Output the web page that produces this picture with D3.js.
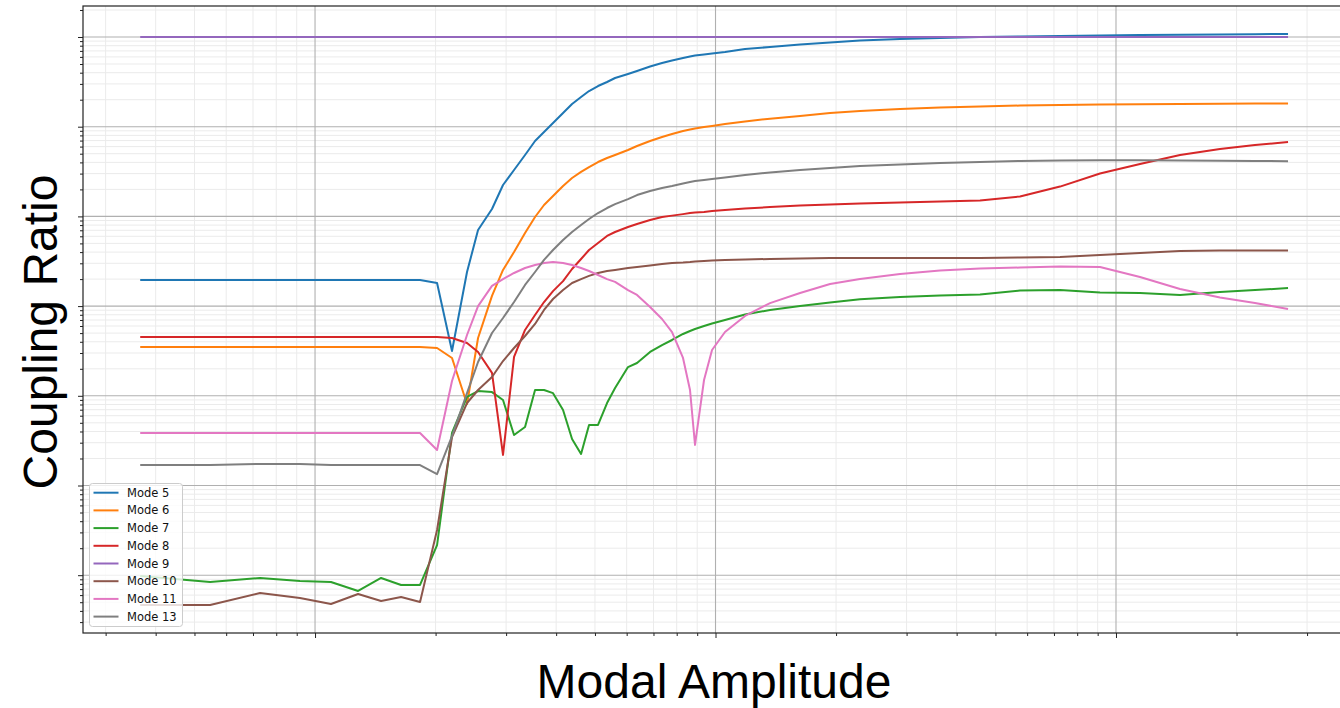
<!DOCTYPE html>
<html>
<head>
<meta charset="utf-8">
<script src="https://cdn.jsdelivr.net/npm/d3@7"></script>
<style>
  body { margin: 0; background: #fff; }
  svg { display: block; }
</style>
</head>
<body>
<div id="chart"></div>
<script>
// shared amplitude grid (x) for all modes
const amplitude = [0.366, 0.547, 0.729, 0.917, 1.096, 1.281, 1.462, 1.640, 1.829, 2.017,
  2.198, 2.396, 2.553, 2.766, 2.947, 3.140, 3.345, 3.543, 3.731, 3.929,
  4.162, 4.383, 4.616, 4.833, 5.089, 5.360, 5.613, 6.046, 6.368, 6.864,
  7.353, 7.788, 8.296, 8.636, 8.888, 9.361, 9.802, 10.56, 11.85, 13.68,
  16.26, 19.32, 22.95, 28.89, 36.36, 45.76, 57.59, 72.49, 91.22, 114.8,
  144.5, 181.8, 222.4, 268.9];

const mode5 = [1.95e-3, 1.95e-3, 1.95e-3, 1.95e-3, 1.95e-3, 1.95e-3, 1.95e-3, 1.95e-3, 1.95e-3, 1.81e-3,
  3.16e-4, 2.40e-3, 7.05e-3, 1.21e-2, 2.24e-2, 3.29e-2, 4.84e-2, 6.93e-2, 8.73e-2, 0.110,
  0.142, 0.179, 0.214, 0.250, 0.284, 0.315, 0.349, 0.387, 0.418, 0.469,
  0.513, 0.547, 0.583, 0.606, 0.622, 0.638, 0.655, 0.680, 0.735, 0.774,
  0.825, 0.868, 0.914, 0.950, 0.975, 1.0, 1.013, 1.026, 1.039, 1.053,
  1.058, 1.066, 1.074, 1.080];

const mode6 = [3.50e-4, 3.50e-4, 3.50e-4, 3.50e-4, 3.50e-4, 3.50e-4, 3.50e-4, 3.50e-4, 3.50e-4, 3.41e-4,
  2.64e-4, 8.10e-5, 4.41e-4, 1.30e-3, 2.53e-3, 4.01e-3, 6.53e-3, 9.85e-3, 1.34e-2, 1.69e-2,
  2.18e-2, 2.68e-2, 3.13e-2, 3.55e-2, 4.04e-2, 4.48e-2, 4.84e-2, 5.50e-2, 6.09e-2, 6.93e-2,
  7.68e-2, 8.29e-2, 8.95e-2, 9.30e-2, 9.55e-2, 9.92e-2, 0.102, 0.107, 0.114, 0.123,
  0.132, 0.142, 0.150, 0.158, 0.164, 0.168, 0.172, 0.175, 0.177, 0.178,
  0.179, 0.180, 0.181, 0.181];

const mode7 = [9.80e-7, 8.40e-7, 9.31e-7, 8.62e-7, 8.40e-7, 6.67e-7, 9.31e-7, 7.78e-7, 7.78e-7, 2.17e-6,
  3.85e-5, 9.70e-5, 1.13e-4, 1.10e-4, 8.98e-5, 3.66e-5, 4.49e-5, 1.16e-4, 1.16e-4, 1.07e-4,
  6.95e-5, 3.30e-5, 2.25e-5, 4.73e-5, 4.73e-5, 8.31e-5, 1.22e-4, 2.09e-4, 2.32e-4, 3.08e-4,
  3.68e-4, 4.19e-4, 4.89e-4, 5.28e-4, 5.55e-4, 6.00e-4, 6.40e-4, 7.00e-4, 8.06e-4, 9.05e-4,
  1.00e-3, 1.10e-3, 1.19e-3, 1.26e-3, 1.31e-3, 1.35e-3, 1.49e-3, 1.51e-3, 1.42e-3, 1.40e-3,
  1.33e-3, 1.44e-3, 1.51e-3, 1.59e-3];

const mode8 = [4.53e-4, 4.53e-4, 4.53e-4, 4.53e-4, 4.53e-4, 4.53e-4, 4.53e-4, 4.53e-4, 4.53e-4, 4.53e-4,
  4.41e-4, 3.88e-4, 3.08e-4, 1.80e-4, 2.19e-5, 2.71e-4, 5.42e-4, 7.96e-4, 1.11e-3, 1.47e-3,
  1.90e-3, 2.59e-3, 3.35e-3, 4.22e-3, 5.05e-3, 6.05e-3, 6.70e-3, 7.62e-3, 8.23e-3, 9.12e-3,
  9.85e-3, 1.02e-2, 1.06e-2, 1.09e-2, 1.105e-2, 1.12e-2, 1.15e-2, 1.18e-2, 1.225e-2, 1.27e-2,
  1.32e-2, 1.36e-2, 1.39e-2, 1.43e-2, 1.47e-2, 1.50e-2, 1.67e-2, 2.15e-2, 3.01e-2, 3.84e-2,
  4.84e-2, 5.64e-2, 6.25e-2, 6.75e-2];

const mode9 = [1, 1, 1, 1, 1, 1, 1, 1, 1, 1,
  1, 1, 1, 1, 1, 1, 1, 1, 1, 1,
  1, 1, 1, 1, 1, 1, 1, 1, 1, 1,
  1, 1, 1, 1, 1, 1, 1, 1, 1, 1,
  1, 1, 1, 1, 1, 1, 1, 1, 1, 1,
  1, 1, 1, 1];

const mode10 = [4.65e-7, 4.65e-7, 6.33e-7, 5.57e-7, 4.78e-7, 6.17e-7, 5.16e-7, 5.71e-7, 5.03e-7, 3.19e-6,
  3.47e-5, 8.31e-5, 1.16e-4, 1.62e-4, 2.44e-4, 3.41e-4, 4.64e-4, 6.32e-4, 9.05e-4, 1.20e-3,
  1.51e-3, 1.81e-3, 2.00e-3, 2.17e-3, 2.34e-3, 2.46e-3, 2.53e-3, 2.66e-3, 2.73e-3, 2.83e-3,
  2.94e-3, 3.02e-3, 3.06e-3, 3.10e-3, 3.14e-3, 3.18e-3, 3.22e-3, 3.27e-3, 3.31e-3, 3.35e-3,
  3.39e-3, 3.44e-3, 3.44e-3, 3.44e-3, 3.44e-3, 3.44e-3, 3.48e-3, 3.53e-3, 3.71e-3, 3.91e-3,
  4.11e-3, 4.17e-3, 4.17e-3, 4.17e-3];

const mode11 = [3.85e-5, 3.85e-5, 3.85e-5, 3.85e-5, 3.85e-5, 3.85e-5, 3.85e-5, 3.85e-5, 3.85e-5, 2.49e-5,
  1.46e-4, 4.76e-4, 1.00e-3, 1.68e-3, 2.00e-3, 2.34e-3, 2.66e-3, 2.87e-3, 3.02e-3, 3.10e-3,
  3.02e-3, 2.87e-3, 2.66e-3, 2.46e-3, 2.22e-3, 2.00e-3, 1.86e-3, 1.51e-3, 1.33e-3, 9.77e-4,
  7.18e-4, 5.14e-4, 2.64e-4, 1.16e-4, 2.83e-5, 1.50e-4, 3.24e-4, 5.14e-4, 7.76e-4, 1.08e-3,
  1.40e-3, 1.76e-3, 2.00e-3, 2.28e-3, 2.49e-3, 2.63e-3, 2.69e-3, 2.76e-3, 2.73e-3, 2.11e-3,
  1.55e-3, 1.25e-3, 1.08e-3, 9.29e-4];

const mode13 = [1.69e-5, 1.69e-5, 1.74e-5, 1.74e-5, 1.69e-5, 1.69e-5, 1.69e-5, 1.69e-5, 1.69e-5, 1.34e-5,
  3.56e-5, 1.07e-4, 2.38e-4, 5.01e-4, 7.37e-4, 1.11e-3, 1.72e-3, 2.40e-3, 3.27e-3, 4.22e-3,
  5.46e-3, 6.70e-3, 8.02e-3, 9.35e-3, 1.09e-2, 1.24e-2, 1.37e-2, 1.56e-2, 1.73e-2, 1.92e-2,
  2.07e-2, 2.18e-2, 2.33e-2, 2.42e-2, 2.48e-2, 2.55e-2, 2.61e-2, 2.71e-2, 2.89e-2, 3.09e-2,
  3.29e-2, 3.46e-2, 3.65e-2, 3.79e-2, 3.94e-2, 4.04e-2, 4.15e-2, 4.20e-2, 4.23e-2, 4.23e-2,
  4.20e-2, 4.17e-2, 4.15e-2, 4.12e-2];

const modeNames = ['Mode 5', 'Mode 6', 'Mode 7', 'Mode 8', 'Mode 9', 'Mode 10', 'Mode 11', 'Mode 13'];
const modeValues = [mode5, mode6, mode7, mode8, mode9, mode10, mode11, mode13];
const colors = ['#1f77b4', '#ff7f0e', '#2ca02c', '#d62728', '#9467bd', '#8c564b', '#e377c2', '#7f7f7f'];

const W = 1340, H = 708;
const margin = {top: 6, left: 83, right: -5, bottom: 75};
const width = W - margin.left - margin.right,
  height = H - margin.top - margin.bottom;

const svg = d3.select('#chart').append('svg')
  .attr('width', W)
  .attr('height', H)
  .style('font-family', 'Liberation Sans, Arial, sans-serif');

const g = svg.append('g')
  .attr('transform', 'translate(' + margin.left + ',' + margin.top + ')');

const x = d3.scaleLog()
  .domain([0.2634, 373.1])
  .range([0, width]);

const y = d3.scaleLog()
  .domain([2.268e-7, 2.216])
  .range([height, 0]);

const isMajor = (v) => Math.abs(Math.log10(v) - Math.round(Math.log10(v))) < 1e-6;
const xMinor = x.ticks().filter((v) => !isMajor(v));
const xMajor = x.ticks().filter(isMajor);
const yMinor = y.ticks().filter((v) => !isMajor(v));
const yMajor = y.ticks().filter(isMajor);

// grid: minor first, then major
const grid = g.append('g').attr('class', 'grid');
grid.selectAll('.xminor').data(xMinor).enter().append('line')
  .attr('x1', (d) => x(d)).attr('x2', (d) => x(d))
  .attr('y1', 0).attr('y2', height)
  .attr('stroke', '#ebebeb').attr('stroke-width', 1);
grid.selectAll('.yminor').data(yMinor).enter().append('line')
  .attr('y1', (d) => y(d)).attr('y2', (d) => y(d))
  .attr('x1', 0).attr('x2', width)
  .attr('stroke', '#ebebeb').attr('stroke-width', 1);
grid.selectAll('.xmajor').data(xMajor).enter().append('line')
  .attr('x1', (d) => x(d)).attr('x2', (d) => x(d))
  .attr('y1', 0).attr('y2', height)
  .attr('stroke', '#b0b0b0').attr('stroke-width', 1.1);
grid.selectAll('.ymajor').data(yMajor).enter().append('line')
  .attr('y1', (d) => y(d)).attr('y2', (d) => y(d))
  .attr('x1', 0).attr('x2', width)
  .attr('stroke', '#b0b0b0').attr('stroke-width', 1.1);

// axes: ticks only, no labels
function tickAxis(axis, vals, size) {
  return axis.tickValues(vals).tickSize(size).tickSizeOuter(0).tickFormat('');
}
const axes = [
  g.append('g').attr('transform', 'translate(0,' + height + ')').call(tickAxis(d3.axisBottom(x), xMinor, 3)),
  g.append('g').attr('transform', 'translate(0,' + height + ')').call(tickAxis(d3.axisBottom(x), xMajor, 5)),
  g.append('g').call(tickAxis(d3.axisLeft(y), yMinor, 3)),
  g.append('g').call(tickAxis(d3.axisLeft(y), yMajor, 5))
];
axes.forEach((a) => {
  a.select('.domain').remove();
  a.selectAll('line').attr('stroke', '#222').attr('stroke-width', 1);
});

g.append('clipPath').attr('id', 'clip')
  .append('rect').attr('width', width).attr('height', height);

const line = d3.line()
  .x((d, i) => x(amplitude[i]))
  .y((d) => y(d));

g.append('g').attr('clip-path', 'url(#clip)')
  .selectAll('.mode')
  .data(modeValues)
  .enter().append('path')
  .attr('class', 'mode')
  .attr('fill', 'none')
  .attr('stroke', (d, i) => colors[i])
  .attr('stroke-width', 2)
  .attr('stroke-linejoin', 'round')
  .attr('d', line);

// spines
g.append('rect')
  .attr('width', width).attr('height', height)
  .attr('fill', 'none').attr('stroke', '#222').attr('stroke-width', 1.2);

// legend
const legend = svg.append('g').attr('transform', 'translate(89.5,483.5)');
legend.append('rect')
  .attr('width', 93).attr('height', 143).attr('rx', 3)
  .attr('fill', '#fff').attr('fill-opacity', 0.8)
  .attr('stroke', '#cccccc').attr('stroke-width', 1);
const rows = legend.selectAll('.row').data(modeNames).enter().append('g')
  .attr('transform', (d, i) => 'translate(0,' + (9.2 + i * 17.7) + ')');
rows.append('line')
  .attr('x1', 4).attr('x2', 29)
  .attr('stroke', (d, i) => colors[i]).attr('stroke-width', 2);
rows.append('text')
  .attr('x', 37.5).attr('dy', '0.35em')
  .style('font-family', 'DejaVu Sans, sans-serif')
  .style('font-size', '11.5px')
  .attr('fill', '#111')
  .text((d) => d);

// axis titles
svg.append('text')
  .attr('x', 714).attr('y', 698)
  .attr('text-anchor', 'middle')
  .style('font-size', '48px')
  .text('Modal Amplitude');

svg.append('text')
  .attr('transform', 'translate(57,332) rotate(-90)')
  .attr('text-anchor', 'middle')
  .style('font-size', '48px')
  .text('Coupling Ratio');
</script>
</body>
</html>
